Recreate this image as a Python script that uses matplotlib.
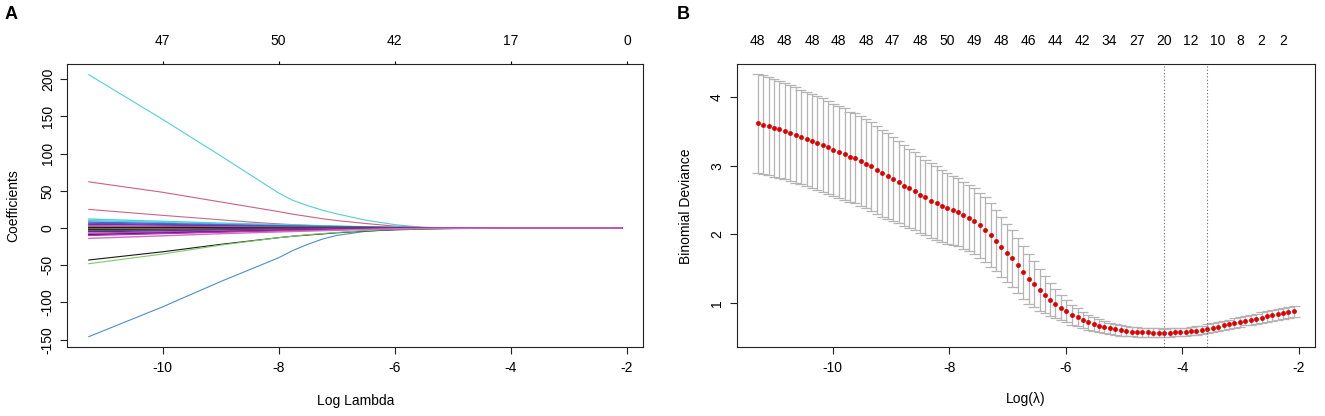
import matplotlib
matplotlib.use("Agg")
import matplotlib.pyplot as plt

plt.rcParams['font.family'] = ['Liberation Sans', 'DejaVu Sans']
plt.rcParams['axes.unicode_minus'] = False

# ---- panel A: coefficient paths (at a few log-lambda knots)
coef_loglam = [-11.27, -10, -9, -8.5, -8, -7.75, -7.5, -7.25, -7, -6.5, -6, -5.5, -5, -4, -3, -2.09]

path_cyan = [206, 146, 97, 72, 47, 37, 30, 24, 19, 10.5, 4.5, 0.8, 0, 0, 0, 0]
path_red = [62, 48, 35, 28.5, 22, 18.5, 15.5, 12.5, 10, 6, 2.5, 0.8, 0.2, 0, 0, 0]
path_pink = [25, 17, 11, 8, 5.5, 4.5, 3.5, 2.7, 2, 1, 0.4, 0.1, 0, 0, 0, 0]
path_blue = [-146, -106, -72, -56, -40, -30, -22, -15, -10, -4.5, -2, -1, -0.3, 0, 0, 0]
path_black = [-43, -32, -22, -17.5, -13, -11, -9.5, -8, -6.5, -4, -2.5, -1.5, -0.8, -0.2, 0, 0]
path_green = [-48, -35, -23, -18, -13, -11, -9, -7.5, -6, -3.5, -2, -1.2, -0.6, -0.1, 0, 0]

small_paths = [
    [12, 9, 6.6, 5.6, 4.6, 4.1, 3.6, 3.1, 2.6, 1.7, 1.0, 0.5, 0.2, 0.05, 0, 0],
    [10, 7.5, 5.5, 4.6, 3.8, 3.4, 3, 2.6, 2.2, 1.4, 0.8, 0.4, 0.2, 0, 0, 0],
    [8, 6, 4.4, 3.7, 3, 2.7, 2.4, 2.1, 1.8, 1.1, 0.6, 0.3, 0.1, 0, 0, 0],
    [6.5, 4.9, 3.6, 3, 2.5, 2.2, 2, 1.7, 1.4, 0.9, 0.5, 0.3, 0.1, 0, 0, 0],
    [5, 3.8, 2.8, 2.3, 1.9, 1.7, 1.5, 1.3, 1.1, 0.7, 0.4, 0.2, 0.1, 0, 0, 0],
    [3, 2.3, 1.7, 1.4, 1.1, 1, 0.9, 0.8, 0.7, 0.4, 0.2, 0.1, 0, 0, 0, 0],
    [1.5, 1.1, 0.8, 0.7, 0.6, 0.55, 0.5, 0.4, 0.3, 0.2, 0.1, 0, 0, 0, 0, 0],
    [0.8, 0.6, 0.45, 0.38, 0.3, 0.27, 0.24, 0.2, 0.17, 0.1, 0.05, 0, 0, 0, 0, 0],
    [0.2, 0.15, 0.1, 0.08, 0.06, 0.05, 0.04, 0.03, 0.02, 0, 0, 0, 0, 0, 0, 0],
    [-0.5, -0.4, -0.3, -0.25, -0.2, -0.18, -0.15, -0.12, -0.1, -0.05, 0, 0, 0, 0, 0, 0],
    [-1, -0.75, -0.55, -0.45, -0.38, -0.34, -0.3, -0.25, -0.2, -0.1, -0.05, 0, 0, 0, 0, 0],
    [-1.5, -1.1, -0.8, -0.7, -0.6, -0.55, -0.5, -0.4, -0.3, -0.2, -0.1, 0, 0, 0, 0, 0],
    [-2.5, -1.9, -1.4, -1.2, -1, -0.9, -0.8, -0.7, -0.6, -0.35, -0.2, -0.1, 0, 0, 0, 0],
    [-3.5, -2.6, -1.9, -1.6, -1.3, -1.15, -1, -0.9, -0.8, -0.5, -0.3, -0.1, 0, 0, 0, 0],
    [-5, -3.8, -2.8, -2.3, -1.9, -1.7, -1.5, -1.3, -1.1, -0.7, -0.4, -0.2, -0.1, 0, 0, 0],
    [-7, -5.3, -3.9, -3.3, -2.7, -2.4, -2.1, -1.8, -1.5, -1, -0.6, -0.3, -0.1, 0, 0, 0],
    [-9, -6.8, -5, -4.2, -3.4, -3, -2.7, -2.3, -2, -1.3, -0.7, -0.4, -0.2, 0, 0, 0],
    [-10, -7.5, -5.5, -4.6, -3.8, -3.4, -3, -2.6, -2.2, -1.4, -0.8, -0.4, -0.2, 0, 0, 0],
    [-14, -10.5, -7.7, -6.5, -5.3, -4.7, -4.2, -3.6, -3.1, -2, -1.1, -0.6, -0.3, 0, 0, 0],
]
small_colors = ['#4FD0D6', '#4FD0D6', '#4A6FD0', '#4A60C8', '#7030A8', '#C040C0',
                '#D0607E', '#6B5A20', '#111111', '#2A1A50', '#111111', '#70C060',
                '#111111', '#A04050', '#3A3AA0', '#C040C0', '#1A1060', '#C030B0', '#D070C0']

top_a_ticks = [-10, -8, -6, -4, -2]
top_a_labels = ['47', '50', '42', '17', '0']

# ---- panel B: cross-validation curve
log_lambda = [
    -11.29, -11.20, -11.10, -11.01, -10.92, -10.83, -10.73, -10.64, -10.55, -10.45,
    -10.36, -10.27, -10.17, -10.08, -9.99, -9.90, -9.80, -9.71, -9.62, -9.52,
    -9.43, -9.34, -9.24, -9.15, -9.06, -8.97, -8.87, -8.78, -8.69, -8.59,
    -8.50, -8.41, -8.31, -8.22, -8.13, -8.04, -7.94, -7.85, -7.76, -7.66,
    -7.57, -7.48, -7.38, -7.29, -7.20, -7.11, -7.01, -6.92, -6.83, -6.73,
    -6.64, -6.55, -6.45, -6.36, -6.27, -6.18, -6.08, -5.99, -5.90, -5.80,
    -5.71, -5.62, -5.52, -5.43, -5.34, -5.25, -5.15, -5.06, -4.97, -4.87,
    -4.78, -4.69, -4.59, -4.50, -4.41, -4.32, -4.22, -4.13, -4.04, -3.94,
    -3.85, -3.76, -3.66, -3.57, -3.48, -3.39, -3.29, -3.20, -3.11, -3.01,
    -2.92, -2.83, -2.73, -2.64, -2.55, -2.46, -2.36, -2.27, -2.18, -2.08,
]
cv_mean = [
    3.62, 3.60, 3.58, 3.55, 3.53, 3.50, 3.48, 3.45, 3.42, 3.39,
    3.36, 3.33, 3.30, 3.27, 3.23, 3.20, 3.17, 3.13, 3.11, 3.07,
    3.03, 2.99, 2.94, 2.89, 2.85, 2.81, 2.76, 2.71, 2.67, 2.63,
    2.58, 2.54, 2.49, 2.46, 2.42, 2.38, 2.35, 2.32, 2.28, 2.24,
    2.19, 2.13, 2.07, 1.99, 1.91, 1.82, 1.73, 1.65, 1.55, 1.45,
    1.35, 1.27, 1.19, 1.12, 1.05, 0.99, 0.93, 0.88, 0.83, 0.79,
    0.75, 0.72, 0.69, 0.67, 0.65, 0.63, 0.62, 0.60, 0.59, 0.58,
    0.577, 0.573, 0.570, 0.569, 0.568, 0.567, 0.569, 0.572, 0.576, 0.581,
    0.588, 0.598, 0.608, 0.623, 0.640, 0.656, 0.674, 0.690, 0.708, 0.725,
    0.743, 0.758, 0.773, 0.788, 0.803, 0.818, 0.836, 0.851, 0.866, 0.882,
]
cv_sd = [
    0.72, 0.72, 0.71, 0.71, 0.71, 0.70, 0.70, 0.70, 0.69, 0.69,
    0.69, 0.68, 0.68, 0.68, 0.67, 0.67, 0.67, 0.66, 0.66, 0.66,
    0.65, 0.65, 0.64, 0.63, 0.62, 0.61, 0.60, 0.59, 0.58, 0.57,
    0.56, 0.55, 0.545, 0.535, 0.525, 0.515, 0.505, 0.495, 0.49, 0.485,
    0.48, 0.475, 0.47, 0.46, 0.45, 0.44, 0.42, 0.41, 0.40, 0.385,
    0.36, 0.335, 0.30, 0.27, 0.24, 0.21, 0.18, 0.16, 0.145, 0.13,
    0.12, 0.11, 0.10, 0.095, 0.09, 0.085, 0.08, 0.075, 0.07, 0.068,
    0.066, 0.064, 0.062, 0.061, 0.06, 0.06, 0.06, 0.06, 0.061, 0.061,
    0.062, 0.062, 0.063, 0.064, 0.065, 0.066, 0.067, 0.068, 0.069, 0.07,
    0.071, 0.072, 0.073, 0.074, 0.075, 0.076, 0.077, 0.078, 0.079, 0.08,
]
idx_min = 75
idx_1se = 83
nz_idx = [0, 5, 10, 15, 20, 25, 30, 35, 40, 45, 50, 55, 60, 65, 70, 75, 80, 85, 89, 93, 97]
nz_labels = ['48', '48', '48', '48', '48', '47', '48', '50', '49', '48', '46',
             '44', '42', '34', '27', '20', '12', '10', '8', '2', '2']

W, H = 1325, 416
FS = 10
fig = plt.figure(figsize=(W / 100, H / 100), dpi=100)


def style_axes(ax):
    for s in ax.spines.values():
        s.set_linewidth(0.8)
        s.set_color('#222222')
    ax.tick_params(axis='both', direction='out', length=5, width=0.8,
                   labelsize=FS, colors='#222222', labelcolor='black')
    ax.tick_params(axis='x', pad=5)
    ax.tick_params(axis='y', pad=4)


# ---------------- panel A
axA = fig.add_axes([67.3 / W, 1 - 347.3 / H, (643.3 - 67.3) / W, (347.3 - 63.5) / H])
main = [(path_cyan, '#4FD0D6'), (path_red, '#D0607E'), (path_pink, '#CC6685'),
        (path_blue, '#4A90CC'), (path_black, '#1A1A1A'), (path_green, '#7CCB6A')]
for vals, c in main:
    axA.plot(coef_loglam, vals, color=c, lw=0.8)
for vals, c in zip(small_paths, small_colors):
    axA.plot(coef_loglam, vals, color=c, lw=1.0)
axA.set_xlim(-11.64, -1.72)
axA.set_ylim(-160.3, 221)
axA.set_xticks([-10, -8, -6, -4, -2])
axA.set_xticklabels(['-10', '-8', '-6', '-4', '-2'])
yt = [-150, -100, -50, 0, 50, 100, 150, 200]
axA.set_yticks(yt)
axA.set_yticklabels([str(v) for v in yt], rotation=90, va='center')
style_axes(axA)

topA = axA.twiny()
topA.set_xlim(axA.get_xlim())
topA.set_xticks(top_a_ticks)
topA.set_xticklabels(top_a_labels)
topA.tick_params(axis='x', direction='out', length=2, width=0.8, labelsize=FS, pad=9)
for s in topA.spines.values():
    s.set_visible(False)

# ---------------- panel B
axB = fig.add_axes([736.5 / W, 1 - 347.3 / H, (1315.3 - 736.5) / W, (347.3 - 63.5) / H])
upper = [m + s for m, s in zip(cv_mean, cv_sd)]
lower = [m - s for m, s in zip(cv_mean, cv_sd)]
barw = 0.092
axB.vlines(log_lambda, lower, upper, color='#B4B4B4', lw=0.9, zorder=1)
axB.hlines(upper, [x - barw for x in log_lambda], [x + barw for x in log_lambda],
           color='#B4B4B4', lw=0.9, zorder=1)
axB.hlines(lower, [x - barw for x in log_lambda], [x + barw for x in log_lambda],
           color='#B4B4B4', lw=0.9, zorder=1)
axB.plot(log_lambda, cv_mean, 'o', color='#E00000', ms=3.5, mec='none', zorder=3)
for i in (idx_min, idx_1se):
    axB.axvline(log_lambda[i], color='#666666', lw=0.8, ls=(0, (1, 2)), zorder=4)
axB.set_xlim(-11.654, -1.719)
axB.set_ylim(0.354, 4.49)
axB.set_xticks([-10, -8, -6, -4, -2])
axB.set_xticklabels(['-10', '-8', '-6', '-4', '-2'])
axB.set_yticks([1, 2, 3, 4])
axB.set_yticklabels(['1', '2', '3', '4'], rotation=90, va='center')
style_axes(axB)

topB = axB.twiny()
topB.set_xlim(axB.get_xlim())
topB.set_xticks([log_lambda[i] for i in nz_idx])
topB.set_xticklabels(nz_labels)
topB.tick_params(axis='x', length=0, labelsize=FS, pad=11)
for s in topB.spines.values():
    s.set_visible(False)

# ---------------- texts
fig.text(5 / W, 1 - 6 / H, 'A', ha='left', va='top', fontsize=13, fontweight='bold')
fig.text(677 / W, 1 - 6 / H, 'B', ha='left', va='top', fontsize=13, fontweight='bold')
fig.text(13 / W, 1 - 206 / H, 'Coefficients', rotation=90, ha='center', va='center', fontsize=FS)
fig.text(686 / W, 1 - 206 / H, 'Binomial Deviance', rotation=90, ha='center', va='center', fontsize=FS)
fig.text((67.3 + 643.3) / 2 / W, 1 - 401 / H, 'Log Lambda', ha='center', va='center', fontsize=FS)
fig.text((736.5 + 1315.3) / 2 / W, 1 - 399 / H, 'Log(λ)', ha='center', va='center', fontsize=FS)

fig.savefig('out.png', dpi=100, facecolor='white')
